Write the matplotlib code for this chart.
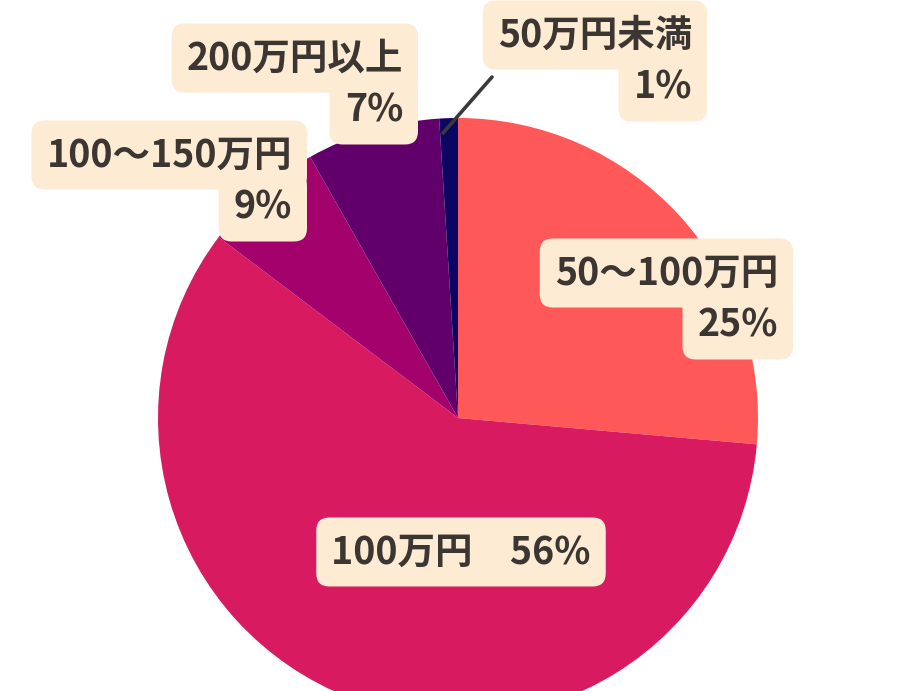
#!/usr/env/bin python

# Pie chart of amounts (万円), labels in cream boxes

import matplotlib.pyplot as plt

plt.rcParams['font.family'] = ['Noto Sans CJK JP', 'DejaVu Sans']

# Data (slice shares, printed labels as shown)
categories = ['50～100万円', '100万円', '100～150万円', '200万円以上', '50万円未満']
shares = [26.4, 58.9, 6.5, 7.2, 1.0]
pct_labels = ['25%', '56%', '9%', '7%', '1%']
colors = ['#FF5858', '#D81A61', '#A3026D', '#62006B', '#0D0563']

W, H = 921, 691
fig = plt.figure(figsize=(W / 100, H / 100), dpi=100)
ax = fig.add_axes([0, 0, 1, 1])

# pie in pixel-like data units
cx, cy, r = 458, H - 418, 300
ax.pie(shares, colors=colors, startangle=90, counterclock=False,
       center=(cx, cy), radius=r, wedgeprops=dict(linewidth=0))
ax.set_xlim(0, W)
ax.set_ylim(0, H)
ax.set_aspect('equal')
ax.axis('off')

fs = 27
txtc = '#3B3632'
boxc = '#FDEBD3'
bstyle = 'round,pad=0.4,rounding_size=0.35'


def line(x, y, s, ha='right'):
    ax.text(x, H - y, s, ha=ha, va='center', fontsize=fs, fontweight='bold',
            color=txtc, bbox=dict(boxstyle=bstyle, fc=boxc, ec='none'))


# label anchors: (text right x, first line y) in pixels from top
anchors = {
    '50～100万円': (778, 273),
    '100～150万円': (292, 155),
    '200万円以上': (403, 58),
    '50万円未満': (692, 35),
}
gap = 52

# leader line for the small slice
ax.plot([443, 492], [H - 133, H - 77], color='#3A3A3A', lw=2.6,
        solid_capstyle='round')

for cat, pct in zip(categories, pct_labels):
    if cat in anchors:
        x, y = anchors[cat]
        line(x, y, cat)
        line(x, y + gap, pct)
    else:
        line(461, 552, cat + '\u3000' + pct, ha='center')

plt.savefig('out.png', dpi=100)
